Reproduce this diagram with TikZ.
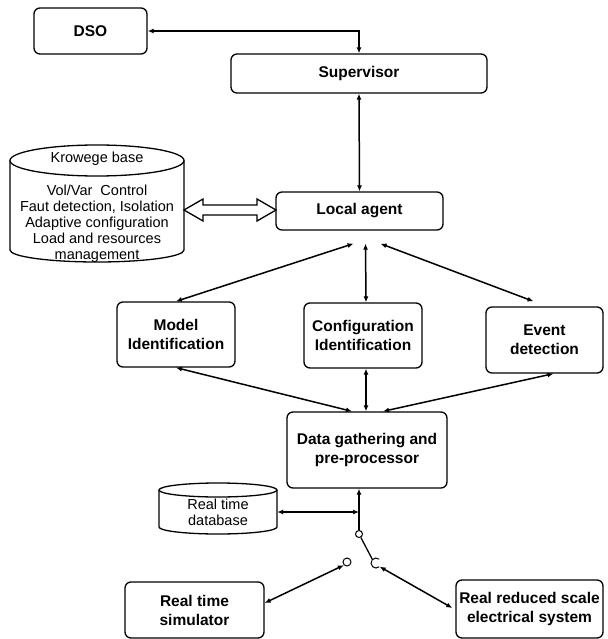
\documentclass[tikz,border=0pt]{standalone}
\usepackage{fontspec}
\setmainfont{Liberation Sans}
\usetikzlibrary{calc, arrows.meta}

\begin{document}
\begin{tikzpicture}[x=1pt,y=-1pt,
    box/.style={draw,rounded corners=6pt,line width=1.3pt,align=center,inner sep=1pt,
        font=\bfseries\fontsize{15.5}{19}\selectfont},
    dbtext/.style={align=center,inner sep=0pt,font=\fontsize{14.5}{16}\selectfont},
    link/.style={line width=1.5pt,{Latex[length=6pt,width=5pt]}-{Latex[length=6pt,width=5pt]}},
    uplink/.style={line width=1.5pt,-{Latex[length=6pt,width=5pt]}},
    hollow/.style={line width=1.3pt,fill=white,line join=miter},
    pin/.style={circle,draw,line width=1pt,inner sep=0pt,minimum size=7pt}]
    \useasboundingbox (0,0) rectangle (607,639);
    % boxes
    \node[box,minimum width=113pt,minimum height=46pt] (dso) at (90.5,31) {DSO};
    \node[box,minimum width=256pt,minimum height=39pt] (sup) at (359,73.5) {Supervisor};
    \node[box,minimum width=167pt,minimum height=38pt] (agent) at (359.5,211) {Local agent};
    \node[box,minimum width=118pt,minimum height=65pt] (model) at (176,334.5) {Model\\Identification};
    \node[box,minimum width=118pt,minimum height=65pt] (conf) at (363,335.5) {Configuration\\Identification};
    \node[box,minimum width=117pt,minimum height=66pt] (event) at (544.5,340) {Event\\detection};
    \node[box,minimum width=160pt,minimum height=76pt] (data) at (367,450) {Data gathering and\\pre-processor};
    \node[box,minimum width=139pt,minimum height=56pt] (sim) at (194.5,610) {Real time\\simulator};
    \node[box,minimum width=147pt,minimum height=58pt] (rrs) at (529.5,609) {Real reduced scale\\electrical system};
    % knowledge base
    \draw[line width=1.3pt] (10,160.5) -- (10,250) arc[start angle=180,end angle=0,x radius=87,y radius=12] -- (184,160.5);
    \draw[line width=1.3pt] (97,160.5) ellipse[x radius=87,y radius=15.5];
    \node[dbtext] (kbtitle) at (97,159) {Krowege base};
    \node[dbtext] (kb) at (97,224) {Vol/Var\ \ Control\\Faut detection, Isolation\\Adaptive configuration\\Load and resources\\management};
    \coordinate (kbe) at (184,210);
    \draw[hollow] (kbe) -- ++(19,-11) -- ++(0,6) -- ++(54,0) -- ++(0,-6) -- ++(19,11)
        -- ++(-19,11) -- ++(0,-6) -- ++(-54,0) -- ++(0,6) -- cycle;
    % real time database
    \draw[line width=1.3pt] (159,490) -- (159,527) arc[start angle=180,end angle=0,x radius=59,y radius=7] -- (277,490);
    \draw[line width=1.3pt] (218,490) ellipse[x radius=59,y radius=7];
    \node[dbtext,minimum width=118pt] (rtdb) at (218,512) {Real time\\database};
    % switch
    \node[pin] (swtop) at (359,534) {};
    \node[pin,minimum size=8pt] (swl) at (347,562) {};
    \node[circle,inner sep=0pt,minimum size=10pt] (swc) at (376,563) {};
    \draw[line width=1pt] (swc.center) ++(-50:5) arc[start angle=-50,end angle=-310,radius=5];
    \draw[line width=1.3pt] (swtop) -- (swc.north west);
    % connectors
    \draw[link] (dso.east) -| (sup.north);
    \draw[link] (sup.south) -- (agent.north);
    \draw[link] ([xshift=-6pt,yshift=-13pt]agent.south) -- (model.north);
    \draw[link] ([xshift=6pt,yshift=-13pt]agent.south) -- ([xshift=3pt]conf.north);
    \draw[link] ([xshift=21pt,yshift=-13pt]agent.south) -- ([xshift=-11pt,yshift=5pt]event.north);
    \draw[link] (model.south) -- ([xshift=-15pt]data.north);
    \draw[link] ([xshift=3pt]conf.south) -- ([xshift=-1pt]data.north);
    \draw[link] ([xshift=9pt]event.south) -- ([xshift=16pt]data.north);
    \draw[uplink] (swtop) -- (swtop |- data.south);
    \draw[link] (rtdb.east) -- (rtdb.east -| swtop);
    \draw[link] (swl.south west) -- ([yshift=7pt]sim.east);
    \draw[link] (swc.south east) -- ([xshift=-3pt,yshift=1pt]rrs.west);
\end{tikzpicture}
\end{document}
